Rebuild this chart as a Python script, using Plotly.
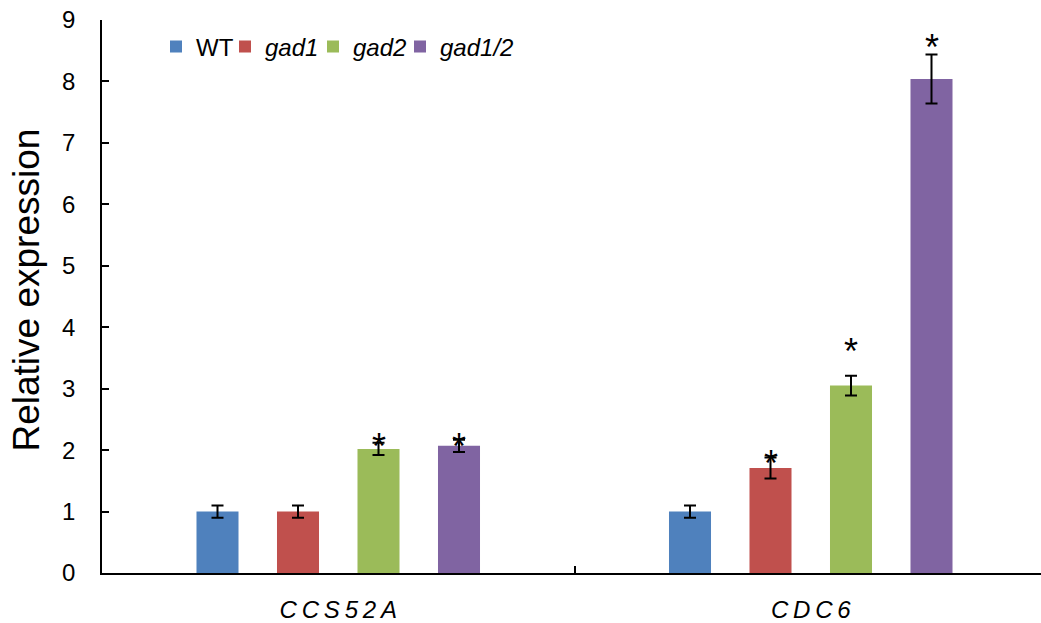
import plotly.graph_objects as go

# Relative expression of cell-cycle genes in wild type and gad mutants
genes = ["CCS52A", "CDC6"]
gene_labels = ["C\u2009C\u2009S\u20095\u20092\u2009A", "C\u2009D\u2009C\u20096"]
genotypes = ["WT", "gad1", "gad2", "gad1/2"]
legend_names = ["WT", "<i>gad1</i>", "<i>gad2</i>", "<i>gad1/2</i>"]

wt = [1.00, 1.00]
gad1 = [1.00, 1.71]
gad2 = [2.02, 3.05]
gad12 = [2.07, 8.04]

wt_err = [0.10, 0.10]
gad1_err = [0.10, 0.17]
gad2_err = [0.10, 0.16]
gad12_err = [0.10, 0.40]

# significance marks: (gene index, genotype index, label height)
stars = [(0, 2, 2.185), (0, 3, 2.185), (1, 1, 1.91), (1, 2, 3.74), (1, 3, 8.675)]

colors = ["#4F81BD", "#C0504D", "#9BBB59", "#8064A2"]
values = [wt, gad1, gad2, gad12]
errors = [wt_err, gad1_err, gad2_err, gad12_err]

FONT = "Arial, 'Liberation Sans', sans-serif"
BARGAP = 0.3185
BARGROUPGAP = 0.478

# plot-area geometry in pixels (used to place legend entries and the y title)
W, H = 1041, 623
ML, MR, MT, MB = 102, 0, 20, 47
PW, PH = W - ML - MR, H - MT - MB

legend_ids = ["legend", "legend2", "legend3", "legend4"]
legend_text_x = [196, 265, 353, 440]   # left edge of each legend label, px
legend_y_px = 47

fig = go.Figure()
for name, vals, errs, col, lid in zip(legend_names, values, errors, colors, legend_ids):
    fig.add_trace(go.Bar(
        x=genes, y=vals, name=name, legend=lid,
        marker=dict(color=col, line=dict(width=0)),
        error_y=dict(type="data", array=errs, visible=True,
                     color="black", thickness=2, width=6),
    ))

n = len(genotypes)
pitch = (1 - BARGAP) / n
for gi, ki, h in stars:
    fig.add_annotation(
        x=gi + (ki - (n - 1) / 2) * pitch, y=h, xref="x", yref="y",
        text="*", showarrow=False, yanchor="middle", yshift=-8,
        font=dict(family=FONT, size=36, color="black"),
    )

# rotated y-axis title
fig.add_annotation(
    x=(27 - ML) / PW, y=(H - MB - 292) / PH, xref="paper", yref="paper",
    text="Relative expression", textangle=-90, showarrow=False,
    xanchor="center", yanchor="middle",
    font=dict(family=FONT, size=37, color="black"),
)

legend_common = dict(orientation="h", xanchor="left", yanchor="middle",
                     font=dict(family=FONT, size=24, color="black"),
                     bgcolor="rgba(0,0,0,0)", itemclick=False, itemdoubleclick=False)
legend_layout = {}
for lid, tx in zip(legend_ids, legend_text_x):
    legend_layout[lid] = dict(legend_common,
                              x=(tx - 40 - ML) / PW,
                              y=(H - MB - legend_y_px) / PH)

fig.update_layout(
    width=W, height=H,
    margin=dict(l=ML, r=MR, t=MT, b=MB),
    paper_bgcolor="white", plot_bgcolor="white",
    barmode="group", bargap=BARGAP, bargroupgap=BARGROUPGAP,
    font=dict(family=FONT, color="black", size=24),
    showlegend=True,
    **legend_layout,
)

fig.update_xaxes(
    type="category", categoryorder="array", categoryarray=genes,
    tickvals=genes, ticktext=gene_labels,
    range=[-0.5, -0.5 + PW / 472.5],
    showline=True, linecolor="black", linewidth=1.5,
    ticks="inside", tickson="boundaries", ticklen=7, tickwidth=1.5, tickcolor="black",
    tickfont=dict(size=24, color="black", style="italic"),
    ticklabelstandoff=14,
    showgrid=False, zeroline=False,
)
fig.update_yaxes(
    range=[0, 9], dtick=1, tick0=0,
    showline=True, linecolor="black", linewidth=1.5,
    ticks="inside", ticklen=7, tickwidth=1.5, tickcolor="black",
    tickfont=dict(size=24, color="black"),
    ticklabelstandoff=20,
    showgrid=False, zeroline=False,
)

fig.write_html("out.html")
